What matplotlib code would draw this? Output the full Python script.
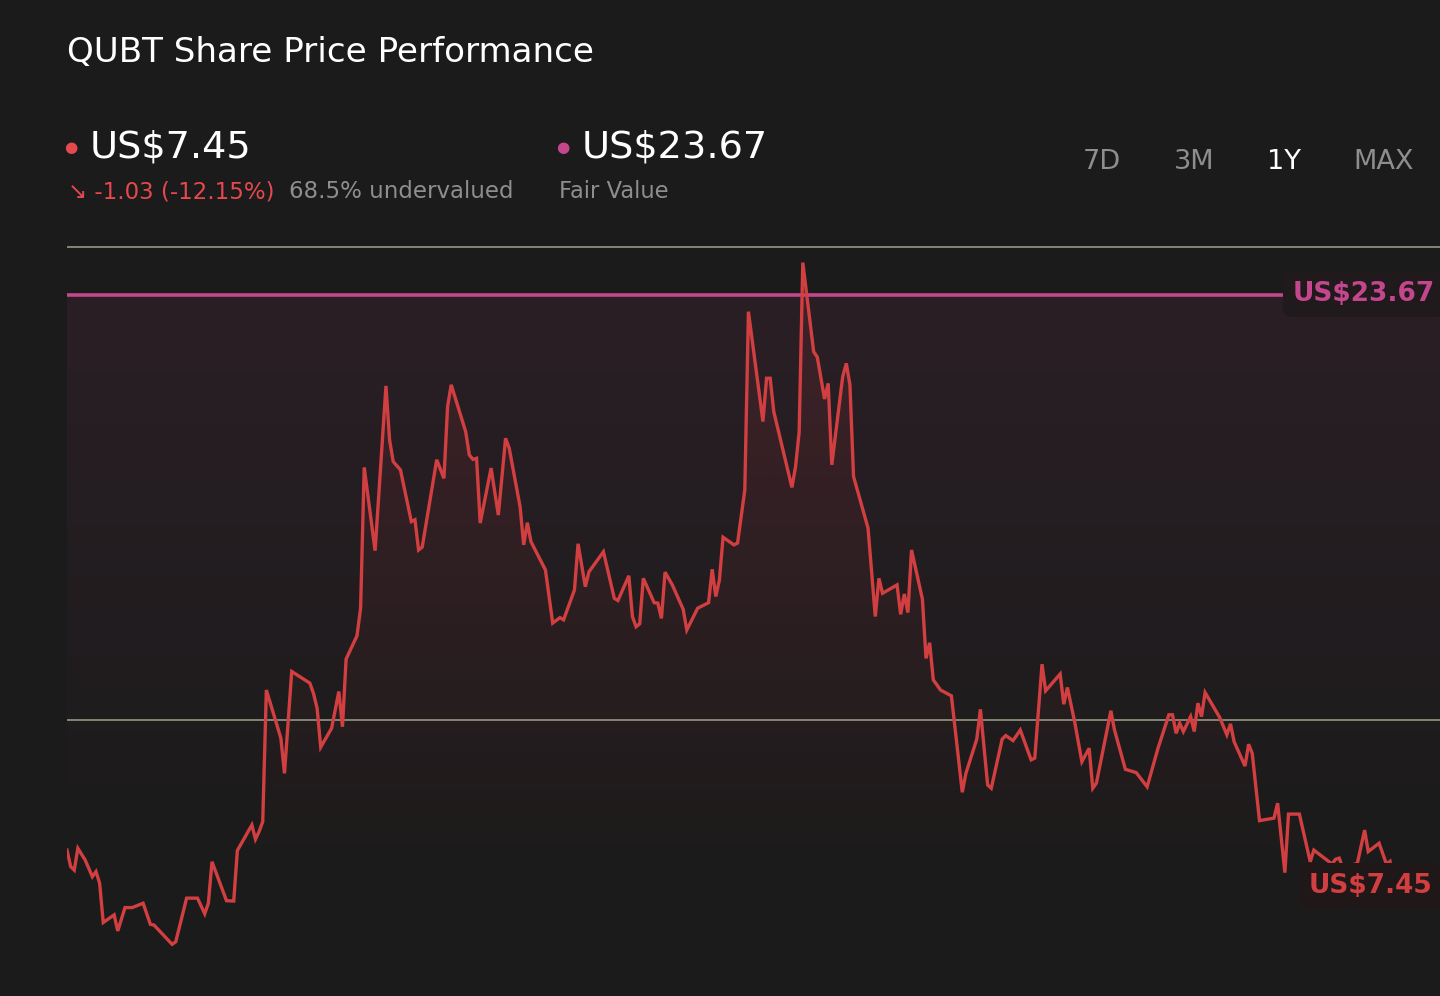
import numpy as np
import matplotlib.pyplot as plt
from matplotlib.colors import to_rgb

# QUBT close prices over the last year (day offset, US$)
days = [0, 1, 2, 3, 5, 7, 8, 9, 10, 13, 14, 16, 18, 21, 23, 24, 29, 30, 33, 36,
        38, 39, 40, 44, 46, 47, 51, 52, 53, 54, 55, 59, 60, 62, 67, 68, 69, 70, 73, 75,
        76, 77, 80, 81, 82, 85, 88, 89, 90, 92, 95, 96, 97, 98, 102, 104, 105, 106, 110, 111,
        112, 113, 114, 117, 119, 121, 122, 125, 126, 127, 128, 132, 134, 136, 137, 140, 141, 143, 144, 148,
        151, 152, 155, 156, 157, 158, 159, 162, 163, 164, 165, 167, 170, 171, 174, 177, 178, 179, 180, 181,
        184, 185, 187, 188, 192, 193, 194, 195, 200, 201, 202, 203, 206, 207, 209, 210, 211, 214, 215, 216,
        217, 221, 223, 224, 225, 229, 230, 231, 232, 233, 236, 237, 238, 239, 241, 244, 247, 248, 251, 252,
        254, 255, 258, 259, 261, 263, 266, 267, 269, 270, 274, 275, 276, 278, 280, 282, 283, 284, 288, 289,
        292, 295, 298, 301, 304, 305, 306, 307, 308, 310, 311, 312, 313, 314, 318, 320, 321, 322, 325, 326,
        327, 329, 333, 334, 336, 337, 340, 343, 344, 349, 350, 351, 352, 356, 358, 359, 362, 364, 365, 366]
prices = [8.42, 7.97, 7.87, 8.47, 8.15, 7.69, 7.83, 7.51, 6.43, 6.64, 6.20, 6.84, 6.84, 6.96, 6.38, 6.36, 5.83, 5.90, 7.10, 7.10,
          6.67, 6.96, 8.10, 7.03, 7.02, 8.41, 9.11, 8.72, 8.93, 9.20, 12.82, 11.50, 10.53, 13.33, 13.01, 12.73, 12.32, 11.25, 11.77, 12.78,
          11.81, 13.67, 14.31, 15.07, 18.94, 16.65, 21.18, 19.69, 19.10, 18.87, 17.45, 17.50, 16.67, 16.75, 19.15, 18.64, 20.61, 21.21, 19.92, 19.28,
          19.16, 19.19, 17.41, 18.92, 17.63, 19.74, 19.47, 17.86, 16.81, 17.42, 16.90, 16.12, 14.66, 14.81, 14.75, 15.57, 16.84, 15.66, 16.07, 16.62,
          15.34, 15.28, 15.96, 14.84, 14.56, 14.64, 15.89, 15.22, 15.21, 14.79, 16.06, 15.71, 15.04, 14.47, 15.07, 15.22, 16.14, 15.39, 15.85, 17.02,
          16.81, 16.86, 18.32, 23.22, 20.20, 21.39, 21.39, 20.47, 18.39, 18.96, 19.92, 24.57, 22.12, 21.97, 20.82, 21.25, 19.01, 21.43, 21.80, 21.21,
          18.69, 17.27, 14.84, 15.89, 15.48, 15.71, 14.90, 15.46, 14.95, 16.67, 15.32, 13.69, 14.12, 13.10, 12.82, 12.66, 10.01, 10.53, 11.47, 12.29,
          10.21, 10.12, 11.47, 11.57, 11.43, 11.72, 10.90, 10.95, 13.53, 12.80, 13.26, 12.43, 12.89, 11.95, 10.85, 11.22, 10.12, 10.26, 12.25, 11.72,
          10.64, 10.55, 10.16, 11.22, 12.14, 12.14, 11.63, 11.91, 11.68, 12.09, 11.68, 12.46, 12.09, 12.75, 12.07, 11.59, 11.89, 11.40, 10.73, 11.33,
          11.08, 9.23, 9.30, 9.71, 7.80, 9.41, 9.41, 8.10, 8.42, 8.04, 8.17, 8.20, 7.92, 8.06, 8.97, 8.38, 8.61, 8.04, 8.11, 7.45]

fair_value = 23.67
last_price = 7.45
change_text = "↘ -1.03 (-12.15%)"
valuation_text = "68.5% undervalued"
grid_levels = [25, 12]
ranges = ["7D", "3M", "1Y", "MAX"]
active_range = "1Y"

bg = "#1b1b1b"
red = "#d23f41"
pink = "#c4478e"
grey = "#8e8e8e"

W, H = 1440, 996
fig = plt.figure(figsize=(W / 100, H / 100), dpi=100, facecolor=bg)
ax = fig.add_axes([67 / W, 0, 1 - 67 / W, (H - 240) / H])
ax.set_facecolor(bg)
x_max = 378.8
y_min, y_max = 4.41, 25.19
ax.set_xlim(0, x_max)
ax.set_ylim(y_min, y_max)
ax.axis("off")


def gradient(color, a_top, a_bottom):
    g = np.zeros((256, 1, 4))
    g[..., :3] = to_rgb(color)
    g[..., 3] = np.linspace(a_top, a_bottom, 256).reshape(-1, 1)
    return g


# fair value zone tint
ax.imshow(gradient(pink, 0.09, 0.0), extent=[0, x_max, y_min + 3, fair_value],
          aspect="auto", origin="upper", zorder=1)

# area under the price line
area = ax.fill_between(days, prices, y_min, color="none", lw=0)
im = ax.imshow(gradient(red, 0.14, 0.0), extent=[0, x_max, 7, y_max],
               aspect="auto", origin="upper", zorder=2)
im.set_clip_path(area.get_paths()[0], transform=ax.transData)

for lvl in grid_levels:
    ax.axhline(lvl, color="#8f8c7c", lw=1.3, zorder=2)

ax.axhline(fair_value, color=pink, lw=2.6, zorder=3)
ax.plot(days, prices, color=red, lw=2.4, zorder=4, solid_joinstyle="miter")

# right-hand value tags (kept inside the figure edge)
fig.text(1293 / W, 1 - 294 / H, f"US${fair_value:.2f}", color=pink, fontsize=19,
         fontweight="bold", va="center", ha="left", zorder=5,
         bbox=dict(boxstyle="round,pad=0.38", fc="#211a1d", ec="none"))
fig.text(1309 / W, 1 - 886 / H, f"US${last_price:.2f}", color=red, fontsize=19,
         fontweight="bold", va="center", ha="left", zorder=5,
         bbox=dict(boxstyle="round,pad=0.38", fc="#201818", ec="none"))

# header
fig.text(67 / W, 1 - 53 / H, "QUBT Share Price Performance", color="white",
         fontsize=24.6, va="center")
fig.text(64 / W, 1 - 147 / H, "●", color="#e5484d", fontsize=11, va="center")
fig.text(90 / W, 1 - 147 / H, f"US${last_price:.2f}", color="white", fontsize=27.5, va="center")
fig.text(556 / W, 1 - 147 / H, "●", color=pink, fontsize=11, va="center")
fig.text(582 / W, 1 - 147 / H, f"US${fair_value:.2f}", color="white", fontsize=27.5, va="center")
fig.text(68 / W, 1 - 192 / H, change_text, color="#e5484d", fontsize=16.5, va="center")
fig.text(289 / W, 1 - 192 / H, valuation_text, color=grey, fontsize=16.5, va="center")
fig.text(559 / W, 1 - 192 / H, "Fair Value", color=grey, fontsize=16.3, va="center")

for r, xc in zip(ranges, [1102, 1194, 1284, 1384]):
    fig.text(xc / W, 1 - 162 / H, r, color="white" if r == active_range else grey,
             fontsize=19.5, ha="center", va="center")

fig.savefig("out.png", dpi=100, facecolor=bg)
